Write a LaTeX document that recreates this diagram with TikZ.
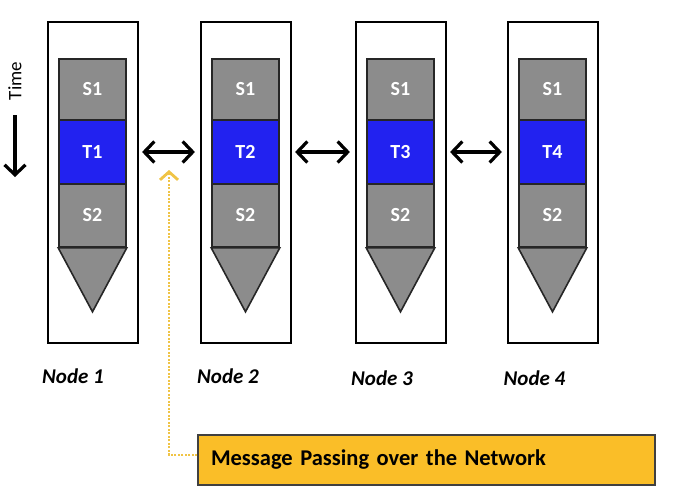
\documentclass[tikz,border=0pt]{standalone}
\usepackage{fontspec}
\setmainfont{Carlito}
\usetikzlibrary{arrows.meta}
\definecolor{stepgray}{RGB}{140,140,140}
\definecolor{taskblue}{RGB}{34,34,240}
\definecolor{msgyellow}{RGB}{250,190,40}
\definecolor{dotyellow}{RGB}{240,196,70}
\tikzset{every picture/.style={line width=0.75pt}}

\begin{document}
\begin{tikzpicture}[x=1pt,y=1pt,yscale=-1,xscale=1,
    nodebox/.style={draw,line width=2.2pt,minimum width=90pt,minimum height=321pt,inner sep=0pt},
    stepbox/.style={draw=black!85,line width=1.6pt,fill=stepgray,minimum width=67pt,inner sep=0pt,text=white,font=\bfseries\fontsize{20}{24}\selectfont},
    taskbox/.style={stepbox,fill=taskblue},
    tipbox/.style={draw=black!85,line width=1.6pt,fill=stepgray},
    linkarrow/.style={{Straight Barb[length=10pt,width=21pt]}-{Straight Barb[length=10pt,width=21pt]},line width=3.2pt,shorten <=3pt,shorten >=5pt},
    timearrow/.style={-{Straight Barb[length=10pt,width=21pt]},line width=3.2pt},
    msgarrow/.style={-{Straight Barb[length=8pt,width=18pt,line width=2.8pt]},draw=dotyellow,line width=1.2pt,dash pattern=on 2pt off 1.5pt},
    nodelabel/.style={font=\bfseries\itshape\fontsize{21}{25}\selectfont},
    msgbox/.style={draw=black!75,line width=1.5pt,fill=msgyellow,minimum height=50pt,text width=431pt,align=left,inner xsep=13pt,font=\bfseries\fontsize{22.5}{26}\selectfont}]
\useasboundingbox (0,0) rectangle (700,495);

%Time axis
    \node (time) at (15,81) [rotate=90,font=\fontsize{19}{22}\selectfont] {Time};
    \coordinate (timestart) at (15,115);
    \coordinate (timeend) at (15,177);
    \draw [timearrow] (timestart) -- (timeend);

%Node 1
    \node (box1) [nodebox] at (93,182.5) {};
    \node (s11) [stepbox,minimum height=61pt] at (92.5,89.5) {S1};
    \node (t1) [taskbox,minimum height=64pt] at (92.5,152) {T1};
    \node (s21) [stepbox,minimum height=63pt] at (92.5,215.5) {S2};
    \draw [tipbox] (s21.south west) -- (s21.south east) -- ([yshift=64pt]s21.south) -- cycle;
%Node 2
    \node (box2) [nodebox] at (246,182.5) {};
    \node (s12) [stepbox,minimum height=61pt] at (245.5,89.5) {S1};
    \node (t2) [taskbox,minimum height=64pt] at (245.5,152) {T2};
    \node (s22) [stepbox,minimum height=63pt] at (245.5,215.5) {S2};
    \draw [tipbox] (s22.south west) -- (s22.south east) -- ([yshift=64pt]s22.south) -- cycle;
%Node 3
    \node (box3) [nodebox] at (401,182.5) {};
    \node (s13) [stepbox,minimum height=61pt] at (400.5,89.5) {S1};
    \node (t3) [taskbox,minimum height=64pt] at (400.5,152) {T3};
    \node (s23) [stepbox,minimum height=63pt] at (400.5,215.5) {S2};
    \draw [tipbox] (s23.south west) -- (s23.south east) -- ([yshift=64pt]s23.south) -- cycle;
%Node 4
    \node (box4) [nodebox] at (553,182.5) {};
    \node (s14) [stepbox,minimum height=61pt] at (552.5,89.5) {S1};
    \node (t4) [taskbox,minimum height=64pt] at (552.5,152) {T4};
    \node (s24) [stepbox,minimum height=63pt] at (552.5,215.5) {S2};
    \draw [tipbox] (s24.south west) -- (s24.south east) -- ([yshift=64pt]s24.south) -- cycle;

%Links
    \draw [linkarrow] (box1.east |- t1) -- (box2.west |- t2);
    \draw [linkarrow] (box2.east |- t2) -- (box3.west |- t3);
    \draw [linkarrow] (box3.east |- t3) -- (box4.west |- t4);

% Text Node
    \node (lab1) [nodelabel] at (73,376) {Node 1};
    \node (lab2) [nodelabel] at (228,376) {Node 2};
    \node (lab3) [nodelabel] at (382,378) {Node 3};
    \node (lab4) [nodelabel] at (534.5,378) {Node 4};

%Message box
    \node (msg) [msgbox] at (426.5,460) {Message Passing over the Network};
    \coordinate (msgtip) at (169,170);
    \draw [msgarrow] ([yshift=-5pt]msg.west) -| (msgtip);

\end{tikzpicture}
\end{document}
